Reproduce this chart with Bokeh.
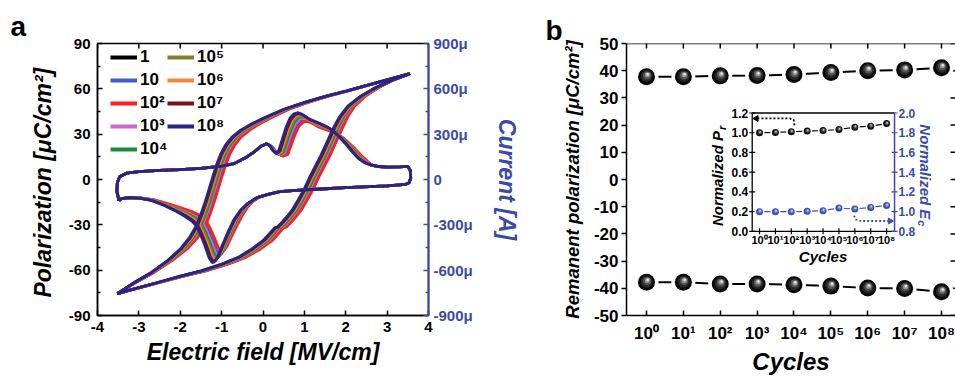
import numpy as np
from bokeh.plotting import figure
from bokeh.layouts import row
from bokeh.models import (Range1d, LinearAxis, FixedTicker, Legend, LegendItem,
                          Span, ColumnDataSource)
from bokeh.transform import dodge
from bokeh.core.properties import value
from bokeh.embed import file_html
from bokeh.resources import INLINE

FONT = "Liberation Sans"
AX_BLUE = "#3a4aa6"

# ---------------- panel a data ----------------
cycle_names = ["1", "10", "10²", "10³", "10⁴", "10⁵", "10⁶", "10⁷", "10⁸"]
cycle_colors = ["#000000", "#3e5fc9", "#ff1f1f", "#cc66cc", "#1b8a3c",
                "#808033", "#f08a3a", "#7a1010", "#25258f"]
# rightward shift of the switching region for each cycle count (MV/cm)
switch_shift = [0.17, 0.17, 0.22, 0.14, 0.11, 0.08, 0.055, 0.03, 0.0]
# switching-current peak height relative to 10^8
peak_ratio = [0.90, 0.90, 0.87, 0.92, 0.94, 0.95, 0.97, 0.985, 1.0]

# P-E loop (10^8 curve), field MV/cm, polarization uC/cm2, switching weight
pe_field = [3.55, 3.2, 2.8, 2.4, 2.0, 1.5, 1.0, 0.5, 0.0, -0.3, -0.55, -0.75, -0.9,
            -1.02, -1.12, -1.2, -1.3, -1.4, -1.5, -1.62, -1.78, -2.0, -2.3, -2.7,
            -3.1, -3.35, -3.52,
            -3.2, -2.8, -2.4, -2.0, -1.5, -1.0, -0.6, -0.3, 0.0, 0.15, 0.28, 0.34,
            0.42, 0.55, 0.7, 0.85, 1.0, 1.12, 1.25, 1.4, 1.55, 1.7, 1.85, 2.05,
            2.35, 2.7, 3.1, 3.55]
pe_pol = [70, 67.5, 64.5, 61.5, 58.5, 55, 51, 46.5, 40.5, 36.5, 32.5, 28, 23,
          17, 10, 3, -6, -15, -23, -31, -38.5, -46, -53.5, -61.5,
          -68, -72.5, -75.5,
          -73, -70, -67, -64, -60.5, -56, -51.5, -46.5, -40.5, -36, -32, -31.5,
          -29.5, -25.5, -20.5, -13.5, -6, 1, 8, 16, 25, 34, 41.5, 48.5,
          55, 60.5, 65.5, 70]
pe_weight = [0, 0, 0.03, 0.08, 0.15, 0.25, 0.4, 0.6, 0.8, 0.9, 1, 1, 1,
             1, 1, 1, 1, 1, 1, 1, 0.9, 0.75, 0.5, 0.3,
             0.15, 0.05, 0,
             0.05, 0.15, 0.3, 0.4, 0.55, 0.7, 0.85, 0.95, 1, 1, 1, 1,
             1, 1, 1, 1, 1, 1, 1, 1, 1, 1, 0.9, 0.75,
             0.55, 0.35, 0.15, 0]

# I-E curve (10^8 curve), field MV/cm, current uA, switching weight
ie_field = [-3.48, -3.53, -3.52, -3.46, -3.3, -3.0, -2.5, -2.0, -1.5, -1.0, -0.7,
            -0.4, -0.2, -0.05, 0.08, 0.16, 0.24, 0.31, 0.38, 0.46, 0.55, 0.65,
            0.75, 0.83, 0.92, 1.02, 1.12, 1.25, 1.4, 1.55, 1.7, 1.85, 2.0, 2.15,
            2.3, 2.45, 2.6, 2.8, 3.0, 3.3, 3.5, 3.56, 3.57, 3.53, 3.45,
            3.0, 2.0, 1.4, 0.8, 0.4, 0.1, -0.15, -0.38, -0.55, -0.71, -0.85,
            -0.99, -1.1, -1.18, -1.23, -1.3, -1.4, -1.5, -1.6, -1.72, -1.88,
            -2.1, -2.4, -2.7, -3.0, -3.25, -3.42, -3.48]
ie_current = [-140, -80, -20, 20, 42, 52, 60, 66, 74, 88, 105,
              148, 185, 220, 237, 225, 190, 173, 190, 260, 340, 405,
              435, 442, 435, 418, 400, 385, 368, 348, 320, 280, 235, 185,
              140, 112, 96, 86, 82, 84, 87, 60, 10, -22, -32,
              -42, -54, -63, -72, -80, -100, -120, -160, -205, -268, -350,
              -440, -515, -545, -550, -520, -440, -370, -310, -275, -245,
              -210, -170, -138, -123, -120, -126, -140]
ie_weight = [0, 0, 0, 0, 0, 0, 0, 0, 0, 0, 0,
             0, 0, 0, 0.05, 0.2, 0.5, 0.8, 1, 1, 1, 1,
             1, 1, 1, 1, 1, 1, 1, 1, 1, 1, 1, 1,
             1, 0.7, 0.4, 0.15, 0, 0, 0, 0, 0, 0, 0,
             0, 0, 0, 0, 0.05, 0.15, 0.3, 0.55, 0.8, 1, 1,
             1, 1, 1, 1, 1, 1, 1, 1, 1, 0.9,
             0.7, 0.45, 0.25, 0.1, 0, 0, 0]

field_ticks = [-4, -3, -2, -1, 0, 1, 2, 3, 4]
field_tick_labels = ["-4", "-3", "-2", "-1", "0", "1", "2", "3", "4"]
pol_ticks = [-90, -60, -30, 0, 30, 60, 90]
pol_tick_labels = ["-90", "-60", "-30", "0", "30", "60", "90"]
pol_minor = [-75, -45, -15, 15, 45, 75]
cur_ticks = [-900, -600, -300, 0, 300, 600, 900]
cur_tick_labels = ["-900μ", "-600μ", "-300μ", "0", "300μ", "600μ", "900μ"]
cur_minor = [-750, -450, -150, 150, 450, 750]

# ---------------- panel b data ----------------
cycle_pos = [0, 1, 2, 3, 4, 5, 6, 7, 8]
cycle_tick_labels = ["10⁰", "10¹", "10²", "10³", "10⁴", "10⁵", "10⁶", "10⁷", "10⁸"]
pr_pos = [37.8, 37.8, 38.1, 38.2, 38.6, 39.3, 40.0, 40.3, 41.1]
pr_neg = [-37.8, -37.8, -38.4, -38.4, -38.7, -39.2, -39.9, -40.1, -41.3]
pr_ticks = [-50, -40, -30, -20, -10, 0, 10, 20, 30, 40, 50]
pr_tick_labels = ["-50", "-40", "-30", "-20", "-10", "0", "10", "20", "30", "40", "50"]

norm_pr = [1.00, 1.003, 1.01, 1.017, 1.023, 1.033, 1.057, 1.067, 1.093]
norm_ec = [1.00, 1.00, 1.00, 1.003, 1.01, 1.037, 1.027, 1.043, 1.063]
inset_pr_ticks = [0.0, 0.2, 0.4, 0.6, 0.8, 1.0, 1.2]
inset_pr_labels = ["0.0", "0.2", "0.4", "0.6", "0.8", "1.0", "1.2"]
inset_ec_ticks = [0.8, 1.0, 1.2, 1.4, 1.6, 1.8, 2.0]
inset_ec_labels = ["0.8", "1.0", "1.2", "1.4", "1.6", "1.8", "2.0"]


def style_axis(ax, size, color="black", width=1.5):
    ax.major_label_text_font = FONT
    ax.major_label_text_font_style = "bold"
    ax.major_label_text_font_size = size
    ax.major_label_text_color = color
    ax.axis_line_color = color
    ax.axis_line_width = width
    ax.major_tick_line_color = color
    ax.minor_tick_line_color = color
    ax.major_tick_line_width = 1.5
    ax.minor_tick_line_width = 1.5
    ax.axis_label_text_font = FONT
    ax.axis_label_text_font_style = "bold italic"
    ax.axis_label_text_color = color


def panel_letter(p, text, offset, standoff):
    p.title.text = text
    p.title.align = "left"
    p.title.offset = offset
    p.title.standoff = standoff
    p.title.text_font = FONT
    p.title.text_font_style = "bold"
    p.title.text_font_size = "28px"
    p.title.text_color = "black"


# ================= panel a =================
AX0, AX1, AY0, AY1 = -4, 4, -90, 90
pa = figure(width=538, height=377, x_range=Range1d(AX0, AX1), y_range=Range1d(AY0, AY1),
            output_backend="svg", toolbar_location=None,
            min_border_left=97, min_border_right=110, min_border_top=39,
            min_border_bottom=59)
pa.extra_y_ranges = {"cur": Range1d(-900, 900)}
pa.grid.visible = False
pa.outline_line_color = "black"
pa.outline_line_width = 1.5
pa.border_fill_color = "white"
panel_letter(pa, "a", -87, 4)

xa = pa.xaxis[0]
xa.ticker = FixedTicker(ticks=field_ticks)
xa.major_label_overrides = dict(zip(field_ticks, field_tick_labels))
style_axis(xa, "15px")
xa.major_tick_in, xa.major_tick_out = 5, 0
xa.minor_tick_line_color = None
xa.major_label_standoff = 6
xa.axis_label = "Electric field [MV/cm]"
xa.axis_label_text_font_size = "23px"
xa.axis_label_standoff = 4

ya = pa.yaxis[0]
ya.ticker = FixedTicker(ticks=pol_ticks, minor_ticks=pol_minor)
ya.major_label_overrides = dict(zip(pol_ticks, pol_tick_labels))
style_axis(ya, "15px")
ya.major_tick_in, ya.major_tick_out = 5, 0
ya.minor_tick_in, ya.minor_tick_out = 3, 0
ya.major_label_standoff = 7
ya.axis_label = "Polarization  [μC/cm²]"
ya.axis_label_text_font_size = "23px"
ya.axis_label_standoff = 10

right_a = LinearAxis(y_range_name="cur", ticker=FixedTicker(ticks=cur_ticks, minor_ticks=cur_minor))
right_a.major_label_overrides = dict(zip(cur_ticks, cur_tick_labels))
style_axis(right_a, "15px", AX_BLUE, 2)
right_a.major_tick_in, right_a.major_tick_out = 5, 0
right_a.minor_tick_in, right_a.minor_tick_out = 3, 0
right_a.major_label_standoff = 5
right_a.axis_label = "Current [A]"
right_a.axis_label_text_font_size = "23px"
right_a.axis_label_standoff = 18
pa.add_layout(right_a, "right")

# inward ticks along the top edge (half of each dash is clipped by the frame)
pa.scatter(x=field_ticks, y=[AY1] * len(field_ticks), marker="dash", angle=np.pi / 2,
           size=10, line_color="black", line_width=1.5)

pe_f = np.array(pe_field)
pe_w = np.array(pe_weight)
ie_f = np.array(ie_field)
ie_c = np.array(ie_current)
ie_w = np.array(ie_weight)
legend_renderers = []
for name, col, sh, pk in zip(cycle_names, cycle_colors, switch_shift, peak_ratio):
    pa.line(pe_f + sh * pe_w, pe_pol, line_color=col, line_width=2.8)
    pa.line(ie_f + sh * ie_w, ie_c * (1 - (1 - pk) * ie_w), y_range_name="cur",
            line_color=col, line_width=2.8)
    legend_renderers.append(pa.line(x=[np.nan], y=[np.nan], line_color=col, line_width=4))

leg_kw = dict(glyph_width=27, glyph_height=20, label_height=20, spacing=3,
              padding=0, margin=0, border_line_color=None, background_fill_alpha=0,
              label_standoff=3, label_text_font=FONT, label_text_font_style="bold",
              label_text_font_size="17px", label_text_color="black")
leg1 = Legend(items=[LegendItem(label=n, renderers=[r]) for n, r in
                     zip(cycle_names[:5], legend_renderers[:5])],
              location=(13, 156), **leg_kw)
leg2 = Legend(items=[LegendItem(label=n, renderers=[r]) for n, r in
                     zip(cycle_names[5:], legend_renderers[5:])],
              location=(70, 179), **leg_kw)
pa.add_layout(leg1)
pa.add_layout(leg2)

# ================= panel b =================
XLO, XHI = -0.542, 8.38
pb = figure(width=417, height=377, x_range=Range1d(XLO, XHI), y_range=Range1d(-50, 50),
            output_backend="svg", toolbar_location=None,
            min_border_left=88, min_border_right=0, min_border_top=43,
            min_border_bottom=55)
pb.grid.visible = False
pb.outline_line_color = None
pb.border_fill_color = "white"
panel_letter(pb, "b", -81, -4)
pb.add_layout(Span(location=50, dimension="width", line_color="black", line_width=1.5))

xb = pb.xaxis[0]
xb.ticker = FixedTicker(ticks=cycle_pos)
xb.major_label_overrides = dict(zip(cycle_pos, cycle_tick_labels))
style_axis(xb, "17px")
xb.major_tick_in, xb.major_tick_out = 5, 0
xb.minor_tick_line_color = None
xb.major_label_standoff = 8
xb.axis_label = "Cycles"
xb.axis_label_text_font_size = "24px"
xb.axis_label_standoff = 2

yb = pb.yaxis[0]
yb.ticker = FixedTicker(ticks=pr_ticks)
yb.major_label_overrides = dict(zip(pr_ticks, pr_tick_labels))
style_axis(yb, "17px")
yb.major_tick_in, yb.major_tick_out = 0, 5
yb.minor_tick_line_color = None
yb.major_label_standoff = 3
yb.axis_label = "Remanent polarization [μC/cm²]"
yb.axis_label_text_font_size = "18.5px"
yb.axis_label_standoff = 8

# inward ticks on the top edge and on the (cut-off) right edge
pb.scatter(x=cycle_pos, y=[50] * len(cycle_pos), marker="dash", angle=np.pi / 2,
           size=10, line_color="black", line_width=1.5)
pb.scatter(x=[XHI] * len(pr_ticks), y=pr_ticks, marker="dash", size=10,
           line_color="black", line_width=1.5)


def balls(p, src, size, gap, base, shades, dx, dy, lw, **kw):
    p.line("x", "y", source=src, line_color=lw[1], line_width=lw[0], **kw)
    p.scatter("x", "y", source=src, size=gap, fill_color="white", line_color=None, **kw)
    p.scatter("x", "y", source=src, size=size, fill_color=base, line_color=None, **kw)
    for i, (c, s) in enumerate(shades):
        f = (i + 1) / len(shades)
        p.scatter(dodge("x", dx * f), dodge("y", dy * f), source=src, size=s,
                  fill_color=c, line_color=None, **kw)


shade_black = [("#262626", 12), ("#555555", 8), ("#9a9a9a", 5), ("#e6e6e6", 2.5)]
for vals in (pr_pos, pr_neg):
    balls(pb, ColumnDataSource(dict(x=cycle_pos, y=vals)), 17, 24, "#080808",
          shade_black, 0.035, 0.9, (2, "black"))

# ---- inset (drawn through extra ranges placed inside panel b) ----
IN_L, IN_R, IN_B, IN_T = 2.867, 6.727, -19.07, 24.44   # inset box, panel-b units
IU0, IU1 = -0.46, 8.5


def inset_range(lo, hi, blo, bhi, dlo, dhi):
    k = (dhi - dlo) / (bhi - blo)
    return Range1d(dlo - (blo - lo) * k, dhi + (hi - bhi) * k)


pb.extra_x_ranges = {"ix": inset_range(XLO, XHI, IN_L, IN_R, IU0, IU1)}
pb.extra_y_ranges = {"iy": inset_range(-50, 50, IN_B, IN_T, 0.0, 1.2),
                     "iy2": inset_range(-50, 50, IN_B, IN_T, 0.8, 2.0)}
L = dict(x_range_name="ix", y_range_name="iy")
R = dict(x_range_name="ix", y_range_name="iy2")

pb.quad(left=[IU0], right=[IU1], bottom=[0], top=[1.2], fill_color="white",
        line_color=None, **L)
pb.multi_line(xs=[[IU1, IU0, IU0, IU1]], ys=[[1.2, 1.2, 0, 0]], line_color="black",
              line_width=1.3, **L)
pb.line(x=[IU1, IU1], y=[0, 1.2], line_color=AX_BLUE, line_width=1.5, **L)

pb.scatter(x=[IU0] * len(inset_pr_ticks), y=inset_pr_ticks, marker="dash", size=6,
           line_color="black", line_width=1.2, **L)
pb.scatter(x=[IU1] * len(inset_ec_ticks), y=inset_ec_ticks, marker="dash", size=6,
           line_color=AX_BLUE, line_width=1.2, **R)
pb.scatter(x=cycle_pos, y=[0] * len(cycle_pos), marker="dash", angle=np.pi / 2, size=6,
           line_color="black", line_width=1.2, **L)

tk = dict(text_font=value(FONT), text_font_style="bold", text_font_size="12px")
pb.text(x=[IU0] * len(inset_pr_ticks), y=inset_pr_ticks, text=inset_pr_labels,
        x_offset=-4, text_align="right", text_baseline="middle", **tk, **L)
pb.text(x=[IU1] * len(inset_ec_ticks), y=inset_ec_ticks, text=inset_ec_labels,
        x_offset=4, text_align="left", text_baseline="middle", text_color=AX_BLUE,
        **tk, **R)
pb.text(x=cycle_pos, y=[0] * len(cycle_pos), text=cycle_tick_labels, y_offset=3,
        text_align="center", text_baseline="top", text_font=value(FONT),
        text_font_style="bold", text_font_size="11px", **L)

ttl = dict(text_font=value(FONT), text_font_style="bold italic")
pb.text(x=[4], y=[0], text=["Cycles"], y_offset=17, text_align="center",
        text_baseline="top", text_font_size="15px", **ttl, **L)
pb.text(x=[IU0], y=[1.2], text=["Normalized P"], x_offset=-35, y_offset=18,
        angle=np.pi / 2, text_align="right", text_baseline="middle",
        text_font_size="15px", **ttl, **L)
pb.text(x=[IU0], y=[1.2], text=["r"], x_offset=-30, y_offset=17,
        angle=np.pi / 2, text_align="left", text_baseline="middle",
        text_font_size="11px", **ttl, **L)
pb.text(x=[IU1], y=[0], text=["Normalized E"], x_offset=31, y_offset=-12,
        angle=-np.pi / 2, text_align="right", text_baseline="middle",
        text_font_size="15px", text_color=AX_BLUE, **ttl, **L)
pb.text(x=[IU1], y=[0], text=["c"], x_offset=27, y_offset=-11,
        angle=-np.pi / 2, text_align="left", text_baseline="middle",
        text_font_size="11px", text_color=AX_BLUE, **ttl, **L)

# inset series
balls(pb, ColumnDataSource(dict(x=cycle_pos, y=norm_pr)), 7, 10, "#111111",
      [("#555555", 4), ("#bbbbbb", 2)], 0.04, 0.008, (1.2, "black"), **L)
balls(pb, ColumnDataSource(dict(x=cycle_pos, y=norm_ec)), 7, 10, "#3d50b0",
      [("#6f80d0", 4), ("#c8d0f0", 2)], 0.04, 0.008, (1.2, "#3d50b0"), **R)

# dotted arrows
pb.line(x=[2.2, 2.15, 1.9, -0.1], y=[1.075, 1.13, 1.145, 1.145], line_color="black",
        line_width=1.8, line_dash="2 2", **L)
pb.scatter(x=[-0.2], y=[1.145], marker="triangle", angle=np.pi / 2, size=6,
           fill_color="black", line_color="black", **L)
pb.line(x=[5.95, 6.05, 6.4, 8.1], y=[0.16, 0.12, 0.105, 0.105], line_color="#3d50b0",
        line_width=1.8, line_dash="2 2", **L)
pb.scatter(x=[8.22], y=[0.105], marker="triangle", angle=-np.pi / 2, size=6,
           fill_color="#3d50b0", line_color="#3d50b0", **L)

layout = row(pa, pb)
open("out.html", "w").write(file_html(layout, INLINE))
